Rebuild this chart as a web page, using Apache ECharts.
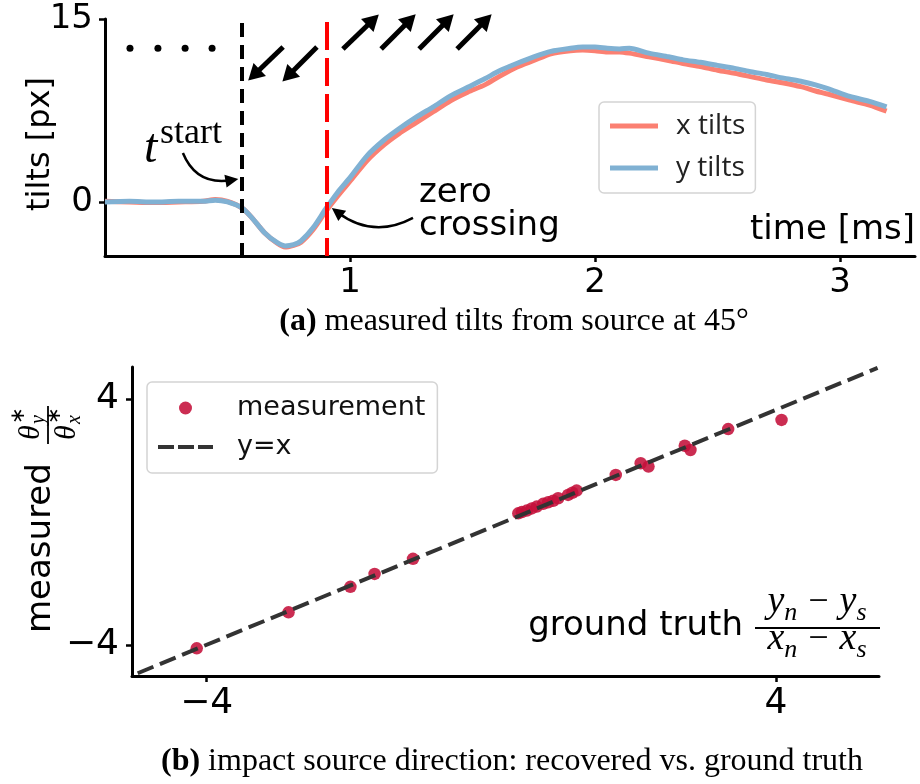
<!DOCTYPE html>
<html><head><meta charset="utf-8">
<script src="https://cdn.jsdelivr.net/npm/echarts@6/dist/echarts.min.js"></script>
<style>html,body{margin:0;padding:0;background:#fff}#c{width:920px;height:784px}</style>
</head><body><div id="c"></div>
<script>
// ---------- data: (a) measured tilts ----------
const timeMs = [0,0.1,0.2,0.3,0.4,0.45,0.5,0.56,0.6,0.65,0.7,0.735,0.77,0.8,0.85,0.9,0.95,1.0,1.07,1.14,1.2,1.27,1.34,
  1.41,1.48,1.55,1.61,1.68,1.75,1.82,1.9,1.95,2.0,2.05,2.1,2.14,2.22,2.3,2.36,2.43,2.5,2.57,2.63,2.7,2.77,2.84,2.9,2.95,3.04,3.12,3.19];
const xTilts = [0.05,0.0,-0.05,0.0,0.05,0.2,0.05,-0.5,-1.3,-2.5,-3.35,-3.7,-3.55,-3.3,-2.25,-0.8,0.5,1.7,3.4,4.7,5.6,6.5,7.4,
  8.3,9.0,9.6,10.3,11.05,11.6,12.15,12.4,12.45,12.4,12.3,12.3,12.2,11.9,11.6,11.35,11.1,10.8,10.55,10.3,10.0,9.75,9.45,9.1,8.85,8.35,7.95,7.45];
const yTilts = [0.0,0.05,0.0,0.05,0.05,0.15,0.0,-0.5,-1.3,-2.5,-3.3,-3.6,-3.5,-3.2,-2.1,-0.6,0.8,2.0,3.8,5.1,6.0,6.95,7.8,
  8.7,9.4,10.1,10.75,11.35,11.9,12.35,12.6,12.7,12.7,12.6,12.55,12.6,12.2,11.9,11.65,11.45,11.2,10.95,10.7,10.45,10.15,9.9,9.6,9.3,8.65,8.25,7.8];
const tStart = 0.559;
const tZeroCross = 0.906;
const topXTicks = [1, 2, 3];
const topYTicks = [0, 15];
// annotation glyphs (data coordinates)
const dotTimes = [0.102, 0.216, 0.327, 0.437];
const dotLevel = 12.6;
const inArrows = [[[0.727,12.70],[0.608,10.41]], [[0.865,12.70],[0.747,10.33]]];
const outArrows = [[[0.971,12.54],[1.094,14.92]], [[1.127,12.54],[1.245,14.92]], [[1.282,12.54],[1.400,14.92]], [[1.437,12.54],[1.555,14.92]]];
const startArrow = [[0.318,4.02],[0.518,1.80]];
const zeroArrow = [[1.257,-1.31],[0.947,-0.82]];

// ---------- data: (b) direction ratios ----------
const groundTruth = [-4.14,-2.85,-1.98,-1.64,-1.10,0.38,0.43,0.50,0.57,0.64,0.73,0.80,0.87,0.94,1.08,1.14,1.20,1.75,2.10,2.21,2.72,2.80,3.33,4.08];
const measured    = [-4.11,-2.94,-2.11,-1.69,-1.20,0.28,0.32,0.37,0.44,0.50,0.59,0.64,0.69,0.77,0.88,0.95,1.02,1.53,1.91,1.80,2.48,2.34,3.02,3.32];
const refLineX = [-4.97, 5.43];
const refLineY = [-4.92, 5.01];
const botTicks = [-4, 4];

// ---------- build ----------
const SANS = 'DejaVu Sans', SERIF = 'Liberation Serif';
const minus = v => (v < 0 ? '\u2212' + Math.abs(v) : String(v));
const chart = echarts.init(document.getElementById('c'), null, {renderer: 'canvas'});

const cvs = document.createElement('canvas').getContext('2d');
function tw(t, font) { cvs.font = font; return cvs.measureText(t).width; }
function fontStr(size, italic, fam) { return (italic ? 'italic ' : '') + size + 'px "' + (fam || SERIF) + '"'; }
function mathRow(items, cx, baseline) {
  let total = 0;
  items.forEach(it => { it.font = fontStr(it.size, it.italic, it.fam); it.w = tw(it.t, it.font); total += it.w + (it.gap || 0); });
  let x = cx - total / 2; const els = [];
  items.forEach(it => {
    els.push({type: 'text', x: x, y: baseline + (it.dy || 0) - 0.34 * it.size, silent: true,
      style: {text: it.t, font: it.font, fill: '#000', align: 'left', verticalAlign: 'middle'}});
    x += it.w + (it.gap || 0);
  });
  return els;
}
function txt(x, y, text, font, align, extra) {
  return Object.assign({type: 'text', x: x, y: y, silent: true,
    style: {text: text, font: font, fill: '#000', align: align || 'left', verticalAlign: 'middle'}}, extra || {});
}

const arrowItem = (seg, w, sz) => [
  {coord: seg[0], symbol: 'none', lineStyle: {color: '#000', width: w, type: 'solid'}},
  {coord: seg[1], symbol: 'triangle', symbolSize: sz}
];

const markLines = [
  [{coord: [tStart, 14.67], symbol: 'none', lineStyle: {color: '#000', width: 4, type: [14, 8]}}, {coord: [tStart, -4.43], symbol: 'none'}],
  [{coord: [tZeroCross, 14.75], symbol: 'none', lineStyle: {color: '#ff0000', width: 4, type: [28, 8]}}, {coord: [tZeroCross, -4.43], symbol: 'none'}]
];
inArrows.concat(outArrows).forEach(a => markLines.push(arrowItem(a, 5, [18, 16])));

function curvedArrowSeries(name, seg, curv) {
  return {name: name, type: 'lines', coordinateSystem: 'cartesian2d', xAxisIndex: 0, yAxisIndex: 0,
    silent: true, z: 10, symbol: ['none', 'triangle'], symbolSize: 13,
    lineStyle: {color: '#000', width: 2.5, type: 'solid', curveness: curv, opacity: 1},
    itemStyle: {color: '#000'},
    data: [{coords: [seg[0], seg[1]]}]};
}

const axisCommon = {
  axisLine: {onZero: false, lineStyle: {color: '#000', width: 3}},
  splitLine: {show: false}
};
const tick = vals => ({length: 6, lineStyle: {color: '#000', width: 2.5}, customValues: vals});

const option = {
  animation: false,
  backgroundColor: '#fff',
  grid: [
    {left: 105, top: 19, width: 810, height: 237},
    {left: 132, top: 367, width: 747, height: 309}
  ],
  xAxis: [
    Object.assign({gridIndex: 0, type: 'value', min: 0, max: 3.306, axisTick: tick(topXTicks),
      axisLabel: {customValues: topXTicks, formatter: minus, fontFamily: SANS, fontSize: 34, color: '#000', margin: 10}}, axisCommon),
    Object.assign({gridIndex: 1, type: 'value', min: -5.05, max: 5.45, axisTick: tick(botTicks),
      axisLabel: {customValues: botTicks, formatter: minus, fontFamily: SANS, fontSize: 36, color: '#000', margin: 10}}, axisCommon)
  ],
  yAxis: [
    Object.assign({gridIndex: 0, type: 'value', min: -4.43, max: 15, axisTick: tick(topYTicks),
      axisLabel: {customValues: topYTicks, formatter: minus, fontFamily: SANS, fontSize: 34, color: '#000', margin: 12}}, axisCommon),
    Object.assign({gridIndex: 1, type: 'value', min: -5.01, max: 5.04, axisTick: tick(botTicks),
      axisLabel: {customValues: botTicks, formatter: minus, fontFamily: SANS, fontSize: 36, color: '#000', margin: 13}}, axisCommon)
  ],
  legend: [
    {data: [{name: 'x tilts', icon: 'path://M0,0h48v5h-48z'}, {name: 'y tilts', icon: 'path://M0,0h48v5h-48z'}],
      orient: 'vertical', left: 599, top: 102, padding: [9, 10, 10, 11],
      itemWidth: 48, itemHeight: 14, itemGap: 12, selectedMode: false, itemStyle: {borderWidth: 0},
      backgroundColor: 'rgba(255,255,255,0.8)', borderColor: '#d4d4d4', borderWidth: 1.5, borderRadius: 5,
      textStyle: {fontFamily: 'Open Sans', fontSize: 28, color: '#222', lineHeight: 30, padding: [0, 0, 0, 13]}},
    {data: [{name: 'measurement', icon: 'circle'}, {name: 'y=x', icon: 'path://M0,0h16v4h-16z M20,0h16v4h-16z M40,0h15v4h-15z'}],
      orient: 'vertical', left: 147, top: 382, padding: [12, 12, 12, 11],
      itemWidth: 55, itemHeight: 13, itemGap: 11, selectedMode: false, itemStyle: {borderWidth: 0},
      backgroundColor: 'rgba(255,255,255,0.8)', borderColor: '#d4d4d4', borderWidth: 1.5, borderRadius: 5,
      textStyle: {fontFamily: SANS, fontSize: 27, color: '#111', lineHeight: 28, padding: [0, 0, 0, 19]}}
  ],
  series: [
    {name: 'x tilts', type: 'line', xAxisIndex: 0, yAxisIndex: 0, symbol: 'none', smooth: 0.25,
      data: timeMs.map((t, i) => [t, xTilts[i]]), color: '#FB8072', lineStyle: {width: 5, color: '#FB8072'}, z: 2},
    {name: 'y tilts', type: 'line', xAxisIndex: 0, yAxisIndex: 0, symbol: 'none', smooth: 0.25,
      data: timeMs.map((t, i) => [t, yTilts[i]]), color: '#80B1D3', lineStyle: {width: 5, color: '#80B1D3'}, z: 3},
    {name: 'phases', type: 'scatter', xAxisIndex: 0, yAxisIndex: 0, symbolSize: 7, silent: true,
      data: dotTimes.map(t => [t, dotLevel]), itemStyle: {color: '#000', opacity: 1}, z: 10,
      markLine: {silent: true, animation: false, symbol: ['none', 'none'], label: {show: false},
        emphasis: {disabled: true}, itemStyle: {color: '#000'}, data: markLines}},
    curvedArrowSeries('startArrow', startArrow, -0.4),
    curvedArrowSeries('zeroArrow', zeroArrow, 0.32),
    {name: 'measurement', type: 'scatter', xAxisIndex: 1, yAxisIndex: 1, symbolSize: 12.5,
      data: groundTruth.map((g, i) => [g, measured[i]]), color: '#C4103A',
      itemStyle: {color: '#C4103A', opacity: 0.88}, z: 3},
    {name: 'y=x', type: 'line', xAxisIndex: 1, yAxisIndex: 1, symbol: 'none',
      data: refLineX.map((x, i) => [x, refLineY[i]]), color: '#333',
      lineStyle: {color: '#333', width: 4, type: [17, 7]}, z: 4}
  ]
};
chart.setOption(option);

// ---------- text annotations, axis titles and captions ----------
const g = [];
g.push(txt(915, 230, 'time [ms]', fontStr(34, false, SANS), 'right'));
g.push(txt(41, 144, 'tilts [px]', fontStr(32, false, SANS), 'center', {rotation: Math.PI / 2}));
g.push(txt(144, 149, 't', fontStr(48, true), 'left'));
g.push(txt(160, 134, 'start', fontStr(36, false), 'left'));
g.push(txt(419, 193, 'zero', fontStr(34, false, SANS), 'left'));
g.push(txt(419, 226, 'crossing', fontStr(34, false, SANS), 'left'));
// captions
g.push({type: 'text', x: 514, y: 322, silent: true, style: {
  text: '{b|(a)} measured tilts from source at 45°', align: 'center', verticalAlign: 'middle',
  font: fontStr(32, false), fill: '#000', rich: {b: {fontFamily: SERIF, fontSize: 32, fontWeight: 'bold'}}}});
g.push({type: 'text', x: 512, y: 762, silent: true, style: {
  text: '{b|(b)} impact source direction: recovered vs. ground truth', align: 'center', verticalAlign: 'middle',
  font: fontStr(32, false), fill: '#000', rich: {b: {fontFamily: SERIF, fontSize: 32, fontWeight: 'bold'}}}});
// x-axis title of (b)
g.push(txt(743, 626, 'ground truth', fontStr(34, false, SANS), 'right'));
g.push({type: 'line', silent: true, shape: {x1: 755, y1: 628, x2: 880, y2: 628}, style: {stroke: '#000', lineWidth: 1.8}});
mathRow([{t: 'y', size: 38, italic: true}, {t: 'n', size: 26, italic: true, dy: 7, gap: 11},
  {t: '\u2212', size: 36, gap: 11}, {t: 'y', size: 38, italic: true}, {t: 's', size: 26, italic: true, dy: 7}], 817, 615).forEach(e => g.push(e));
mathRow([{t: 'x', size: 38, italic: true}, {t: 'n', size: 26, italic: true, dy: 7, gap: 11},
  {t: '\u2212', size: 36, gap: 11}, {t: 'x', size: 38, italic: true}, {t: 's', size: 26, italic: true, dy: 7}], 817, 652).forEach(e => g.push(e));
// y-axis title of (b): rotated group
const yl = [];
yl.push(txt(0, -6.5, 'measured', fontStr(34, false, SANS), 'left'));
yl.push({type: 'line', silent: true, shape: {x1: 189, y1: 0, x2: 227, y2: 0}, style: {stroke: '#000', lineWidth: 1.8}});
function thetaPiece(lx, base, subLetter) {
  return [
    {type: 'text', x: lx, y: base - 0.34 * 30, silent: true, style: {text: '\u03b8', font: fontStr(30, true), fill: '#000', align: 'left', verticalAlign: 'middle'}},
    {type: 'text', x: lx + 16, y: base - 15 - 0.34 * 20, silent: true, style: {text: '\u2217', font: fontStr(20, false), fill: '#000', align: 'left', verticalAlign: 'middle'}},
    {type: 'text', x: lx + 16, y: base + 5 - 0.34 * 20, silent: true, style: {text: subLetter, font: fontStr(20, true), fill: '#000', align: 'left', verticalAlign: 'middle'}}
  ];
}
thetaPiece(193, -7, 'y').forEach(e => yl.push(e));
thetaPiece(193, 29, 'x').forEach(e => yl.push(e));
g.push({type: 'group', x: 48, y: 633, rotation: Math.PI / 2, children: yl});

chart.setOption({graphic: {elements: g}});
</script>
</body></html>
